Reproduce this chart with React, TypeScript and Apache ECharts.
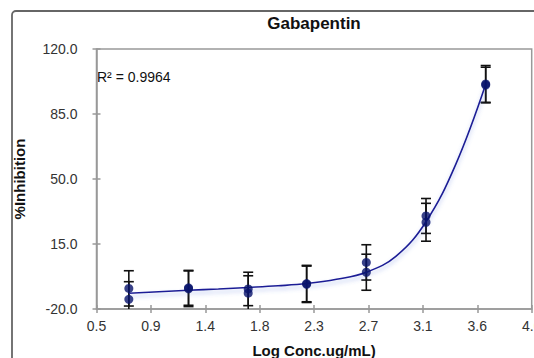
import React, { useEffect, useRef } from "react";
import * as echarts from "echarts";

// Log concentration (x) for each dilution
const logConc = [0.76, 1.24, 1.72, 2.19, 2.67, 3.15, 3.63];
// Replicate 1 and 2 % inhibition
const rep1 = [-8.9, -8.6, -9.2, -6.3, 5.1, 30.1, 101.2];
const rep2 = [-14.8, -9.1, -11.5, -6.7, -0.2, 26.7, 100.6];
// Error (± SD) for each replicate
const err1 = [9.5, 9.4, 9.0, 9.8, 9.5, 9.4, 9.9];
const err2 = [9.5, 9.6, 9.4, 9.8, 9.7, 10.2, 9.6];
// Fitted trend curve
const fitX = [0.76, 1.0, 1.24, 1.48, 1.72, 1.96, 2.19, 2.43, 2.67, 2.91, 3.15, 3.39, 3.63];
const fitY = [-11.5, -10.7, -9.9, -9.2, -8.4, -7.5, -6.3, -4.0, -0.2, 8.5, 27.0, 58.0, 101.0];

const titleText = "Gabapentin";
const r2Text = "R² = 0.9964";
const xName = "Log Conc.ug/mL)";
const yName = "%Inhibition";

export default function App() {
  const ref = useRef<HTMLDivElement>(null);
  useEffect(() => {
    if (!ref.current) return;
    const chart = echarts.init(ref.current, null, { renderer: "svg" });
    const points1 = logConc.map((x, i) => [x, rep1[i]]);
    const points2 = logConc.map((x, i) => [x, rep2[i]]);
    const errData = [
      ...logConc.map((x, i) => [x, rep1[i] - err1[i], rep1[i] + err1[i]]),
      ...logConc.map((x, i) => [x, rep2[i] - err2[i], rep2[i] + err2[i]]),
    ];
    const fit = fitX.map((x, i) => [x, fitY[i]]);
    const axisColor = "#999";
    const gridL = 96.5, gridT = 49, gridR = 2.3, gridB = 49;
    const xCommon = { type: "value", min: 0.5, max: 4.0, interval: 0.4375 } as any;
    const yCommon = { type: "value", min: -20, max: 120, interval: 35 } as any;
    chart.setOption({
      animation: false,
      grid: {
        left: gridL, top: gridT, right: gridR, bottom: gridB,
        outerBoundsMode: "none",
        containLabel: false,
        show: true, borderColor: axisColor, borderWidth: 1.5,
      },
      xAxis: [
        {
          ...xCommon,
          position: "bottom",
          name: xName,
          nameLocation: "middle",
          nameGap: 34,
          nameTextStyle: { fontFamily: "Liberation Sans, Arial", fontSize: 15, fontWeight: "bold", color: "#111" },
          axisLine: { show: true, onZero: false, lineStyle: { color: axisColor, width: 1.5 } },
          axisTick: { show: true, inside: false, length: 4, lineStyle: { color: axisColor, width: 1.5 } },
          axisLabel: {
            margin: 10,
            fontFamily: "Liberation Sans, Arial",
            fontSize: 14,
            color: "#333",
            formatter: (v: number) => v.toFixed(1),
          },
          splitLine: { show: false },
        },
        {
          ...xCommon,
          position: "bottom",
          axisLine: { show: false, onZero: false },
          axisTick: { show: true, inside: true, length: 4, lineStyle: { color: axisColor, width: 1.5 } },
          axisLabel: { show: false },
          splitLine: { show: false },
        },
      ],
      yAxis: [
        {
          ...yCommon,
          position: "left",
          name: yName,
          nameLocation: "middle",
          nameGap: 70,
          nameRotate: 90,
          nameTextStyle: { fontFamily: "Liberation Sans, Arial", fontSize: 15, fontWeight: "bold", color: "#111" },
          axisLine: { show: true, onZero: false, lineStyle: { color: axisColor, width: 1.5 } },
          axisTick: { show: true, inside: false, length: 4, lineStyle: { color: axisColor, width: 1.5 } },
          axisLabel: {
            margin: 19,
            fontFamily: "Liberation Sans, Arial",
            fontSize: 14,
            color: "#333",
            formatter: (v: number) => v.toFixed(1),
          },
          splitLine: { show: false },
        },
        {
          ...yCommon,
          position: "left",
          axisLine: { show: false, onZero: false },
          axisTick: { show: true, inside: true, length: 4, lineStyle: { color: axisColor, width: 1.5 } },
          axisLabel: { show: false },
          splitLine: { show: false },
        },
      ],
      graphic: [
        {
          type: "rect",
          silent: true,
          shape: { x: 12, y: 11, width: 540, height: 370, r: 4 },
          style: { fill: "none", stroke: "#666", lineWidth: 1.8 },
        },
        {
          type: "text",
          x: 314,
          y: 23,
          style: {
            text: titleText,
            fontFamily: "Liberation Sans, Arial",
            fontSize: 17,
            fontWeight: "bold",
            fill: "#111",
            textAlign: "center",
            textVerticalAlign: "middle",
          },
        },
        {
          type: "text",
          x: 97,
          y: 77,
          style: {
            text: r2Text,
            fontFamily: "Liberation Sans, Arial",
            fontSize: 14,
            fill: "#111",
            textAlign: "left",
            textVerticalAlign: "middle",
          },
        },
      ],
      series: [
        {
          type: "custom",
          name: "error",
          xAxisIndex: 0,
          yAxisIndex: 0,
          clip: true,
          z: 2,
          data: errData,
          encode: { x: 0, y: [1, 2] },
          renderItem: (params: any, api: any) => {
            const x = api.value(0);
            const lo = api.coord([x, api.value(1)]);
            const hi = api.coord([x, api.value(2)]);
            const w = 5;
            const st = { stroke: "#111", lineWidth: 1.6 };
            return {
              type: "group",
              children: [
                { type: "line", shape: { x1: lo[0], y1: lo[1], x2: hi[0], y2: hi[1] }, style: st },
                { type: "line", shape: { x1: lo[0] - w, y1: lo[1], x2: lo[0] + w, y2: lo[1] }, style: st },
                { type: "line", shape: { x1: hi[0] - w, y1: hi[1], x2: hi[0] + w, y2: hi[1] }, style: st },
              ],
            };
          },
        },
        {
          type: "line",
          name: "fit",
          data: fit,
          smooth: 0.4,
          showSymbol: false,
          symbol: "none",
          z: 3,
          lineStyle: {
            color: "#1c1c96",
            width: 1.6,
            shadowColor: "rgba(90,120,220,0.45)",
            shadowBlur: 4,
            shadowOffsetY: 3,
          },
        },
        {
          type: "scatter",
          name: "rep1",
          data: points1,
          symbol: "circle",
          symbolSize: 9,
          z: 4,
          itemStyle: { color: "#08136b" },
        },
        {
          type: "scatter",
          name: "rep2",
          data: points2,
          symbol: "circle",
          symbolSize: 9,
          z: 4,
          itemStyle: { color: "#08136b" },
        },
      ],
    });
    return () => chart.dispose();
  }, []);
  return (
    <div
      ref={ref}
      style={{ position: "fixed", left: 0, top: 0, width: 534, height: 358, background: "#fff" }}
    />
  );
}
